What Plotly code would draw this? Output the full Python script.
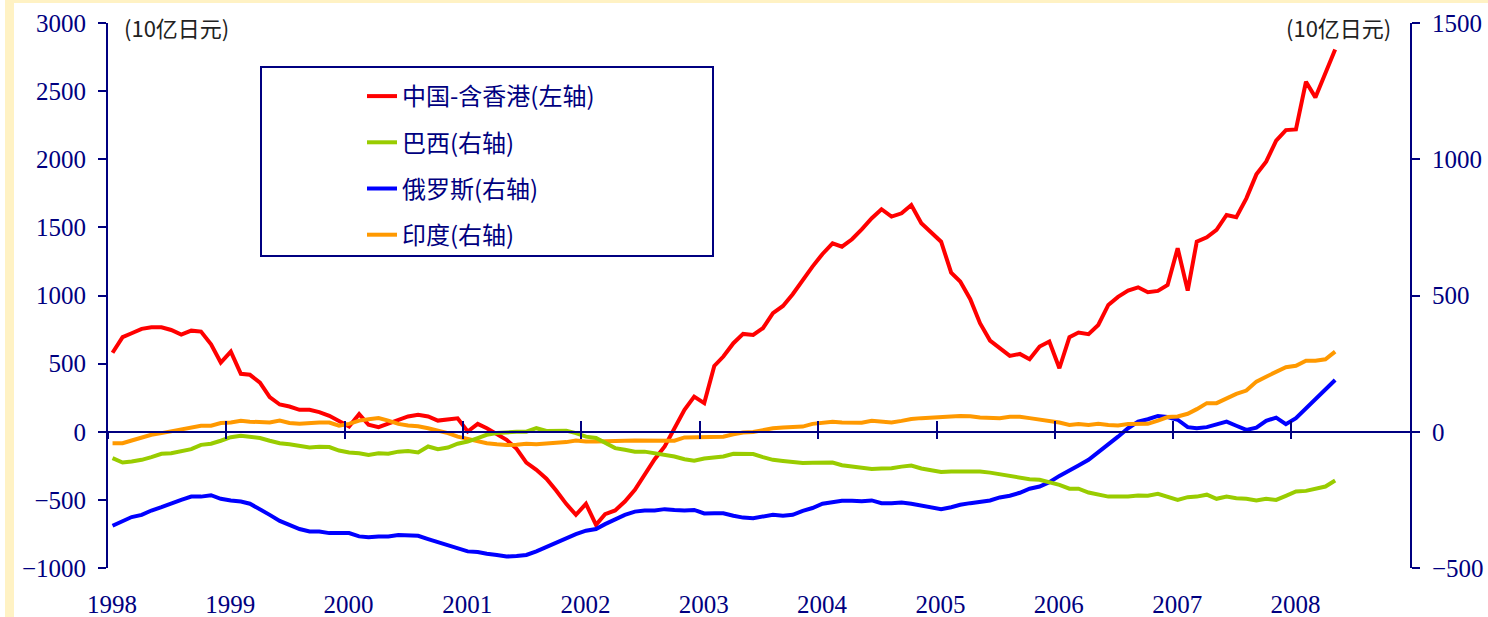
import pandas as pd
import plotly.graph_objects as go

# monthly, Jan 1998 - May 2008 (points plotted mid-month)
months = pd.date_range('1998-01-01', periods=125, freq='MS') + pd.Timedelta(days=14)

# 10亿日元
china = [580, 694, 723, 755, 767, 767, 747, 713, 742, 735, 642, 508,
         588, 425, 418, 361, 254, 200, 185, 161, 161, 144, 117, 82,
         38, 129, 51, 34, 58, 87, 112, 124, 112, 82, 87, 99,
         2, 58, 26, -18, -59, -125, -226, -279, -345, -431, -529, -610,
         -529, -683, -605, -578, -512, -426, -316, -201, -108, 26, 161, 258,
         210, 483, 552, 650, 718, 711, 760, 870, 923, 1009, 1114, 1212,
         1305, 1383, 1358, 1413, 1486, 1567, 1633, 1579, 1603, 1664, 1530, 1461,
         1395, 1168, 1102, 973, 797, 669, 613, 557, 571, 532, 625, 662,
         466, 694, 728, 716, 784, 931, 990, 1036, 1060, 1024, 1034, 1077,
         1347, 1036, 1395, 1427, 1481, 1591, 1574, 1713, 1889, 1982, 2136, 2214,
         2219, 2569, 2454, 2625, 2806]
brazil = [-97, -113, -109, -103, -93, -81, -79, -73, -64, -48, -44, -33,
          -20, -15, -18, -23, -33, -42, -46, -51, -58, -55, -56, -69,
          -76, -79, -85, -79, -81, -73, -71, -76, -54, -64, -58, -44,
          -36, -23, -11, -5, -1, 0, 0, 13, 3, 3, 4, -5,
          -18, -23, -40, -60, -66, -73, -73, -79, -85, -91, -101, -106,
          -98, -95, -91, -81, -81, -82, -93, -103, -107, -110, -115, -114,
          -112, -113, -123, -128, -130, -137, -135, -134, -128, -124, -135, -140,
          -148, -146, -146, -146, -146, -150, -156, -162, -168, -174, -176, -185,
          -195, -209, -209, -223, -231, -238, -238, -238, -234, -235, -228, -238,
          -250, -240, -238, -231, -246, -238, -244, -246, -252, -246, -250, -235,
          -219, -217, -211, -201, -179]
russia = [-345, -329, -313, -305, -289, -277, -262, -250, -238, -238, -233, -246,
          -252, -256, -264, -283, -305, -327, -341, -357, -366, -366, -372, -372,
          -372, -384, -387, -384, -384, -379, -379, -382, -394, -406, -417, -430,
          -439, -441, -448, -452, -458, -456, -452, -439, -423, -406, -392, -376,
          -363, -357, -339, -321, -305, -293, -289, -289, -284, -287, -289, -287,
          -300, -299, -299, -308, -315, -317, -311, -305, -308, -305, -290, -280,
          -264, -258, -253, -253, -255, -252, -262, -262, -260, -264, -271, -277,
          -284, -277, -268, -262, -258, -252, -241, -235, -224, -209, -201, -185,
          -162, -140, -124, -103, -76, -48, -18, 13, 37, 46, 58, 54,
          44, 17, 13, 17, 28, 37, 22, 7, 15, 40, 52, 28,
          50, 86, 119, 151, 190]
india = [-42, -42, -32, -20, -11, -5, 1, 7, 15, 22, 22, 32,
         34, 40, 37, 34, 34, 41, 32, 29, 32, 34, 34, 22,
         29, 41, 46, 50, 41, 29, 23, 20, 13, 4, -5, -18,
         -26, -36, -42, -46, -49, -48, -44, -46, -44, -40, -38, -32,
         -36, -36, -36, -36, -33, -32, -32, -30, -32, -33, -21, -21,
         -19, -18, -18, -9, -3, -1, 7, 13, 16, 19, 19, 29,
         32, 37, 34, 33, 33, 40, 37, 34, 40, 47, 50, 51,
         52, 56, 58, 57, 52, 50, 50, 55, 55, 50, 44, 41,
         34, 25, 28, 25, 29, 25, 23, 28, 29, 29, 41, 54,
         56, 66, 83, 105, 105, 123, 139, 151, 184, 202, 221, 237,
         242, 261, 261, 266, 294]

names = ['中国-含香港(左轴)', '巴西(右轴)', '俄罗斯(右轴)', '印度(右轴)']
colors = ['#FF0000', '#99CC00', '#0000FF', '#FF9900']
series = [china, brazil, russia, india]
yaxes = ['y', 'y2', 'y2', 'y2']
# all x axes share the same range; extra ones carry the zero-line ticks
xaxes = ['x', 'x3', 'x', 'x2']

years = [str(y) for y in range(1998, 2009)]
year_ticks = [y + '-01-01' for y in years]
x_range = ['1998-01-01', '2009-01-01']

navy = '#000080'
num_font = dict(family='Liberation Serif, Times New Roman, serif', size=25, color=navy)
cjk = 'Noto Sans CJK SC'

fig = go.Figure()
for name, vals, col, xa, ya in zip(names, series, colors, xaxes, yaxes):
    fig.add_trace(go.Scatter(x=months, y=vals, name=name, xaxis=xa, yaxis=ya, mode='lines',
                             line=dict(color=col, width=4), legendgroup=name))

# px -> paper helpers for decoration
L, R, T, B = 108, 78, 23, 49
W, H = 1488 - L - R, 617 - T - B
def px(x):
    return (x - L) / W
def py(y):
    return (617 - B - y) / H

fig.update_layout(
    width=1488, height=617, autosize=False,
    margin=dict(l=L, r=R, t=T, b=B),
    paper_bgcolor='white', plot_bgcolor='white',
    showlegend=True,
    legend=dict(x=px(362), y=py(74), xanchor='left', yanchor='top',
                font=dict(family=cjk, size=24, color=navy),
                bgcolor='rgba(0,0,0,0)', borderwidth=0,
                traceorder='grouped', tracegroupgap=12, itemwidth=30),
    xaxis=dict(type='date', range=x_range, tickvals=year_ticks, ticktext=years,
               showline=False, showgrid=False, zeroline=False, ticks='', automargin=False,
               tickfont=num_font, ticklabelstandoff=19, ticklabelshift=4),
    xaxis2=dict(type='date', overlaying='x', range=x_range, anchor='free', position=0.25,
                tickvals=year_ticks, showline=True, linecolor=navy, linewidth=2,
                ticks='inside', ticklen=10, tickwidth=2, tickcolor=navy, automargin=False,
                showticklabels=False, showgrid=False, zeroline=False),
    xaxis3=dict(type='date', overlaying='x', range=x_range, anchor='free', position=0.25,
                tickvals=year_ticks, showline=False, automargin=False,
                ticks='outside', ticklen=6, tickwidth=2, tickcolor=navy,
                showticklabels=False, showgrid=False, zeroline=False),
    yaxis=dict(range=[-1000, 3000], dtick=500, tick0=0, showline=True, linecolor=navy,
               linewidth=2, ticks='outside', ticklen=8, tickwidth=2, tickcolor=navy,
               tickfont=num_font, ticklabelstandoff=7, showgrid=False, zeroline=False,
               automargin=False),
    yaxis2=dict(range=[-500, 1500], dtick=500, tick0=0, overlaying='y', side='right',
                showline=True, linecolor=navy, linewidth=2, ticks='outside', ticklen=8,
                tickwidth=2, tickcolor=navy, tickfont=num_font, ticklabelstandoff=7,
                showgrid=False, zeroline=False, automargin=False),
)

# cream frame strips
cream = '#FFF2C4'
fig.add_shape(type='rect', xref='paper', yref='paper', x0=px(5), x1=px(14), y0=py(620), y1=py(-2),
              fillcolor=cream, line_width=0, layer='below')
fig.add_shape(type='rect', xref='paper', yref='paper', x0=px(5), x1=px(1490), y0=py(3), y1=py(-2),
              fillcolor=cream, line_width=0, layer='below')
# legend frame
fig.add_shape(type='rect', xref='paper', yref='paper', x0=px(261), x1=px(713), y0=py(256), y1=py(67),
              line=dict(color=navy, width=2), fillcolor='rgba(0,0,0,0)')

unit = '(10亿日元)'
fig.add_annotation(text=unit, xref='paper', yref='paper', x=px(122), y=py(27),
                   xanchor='left', yanchor='middle', showarrow=False,
                   font=dict(family=cjk, size=22, color='#222222'))
fig.add_annotation(text=unit, xref='paper', yref='paper', x=px(1393), y=py(27),
                   xanchor='right', yanchor='middle', showarrow=False,
                   font=dict(family=cjk, size=22, color='#222222'))

fig.write_html('out.html', config={'displayModeBar': False},
               post_script="document.body.style.margin='0';document.body.style.overflow='hidden';")
